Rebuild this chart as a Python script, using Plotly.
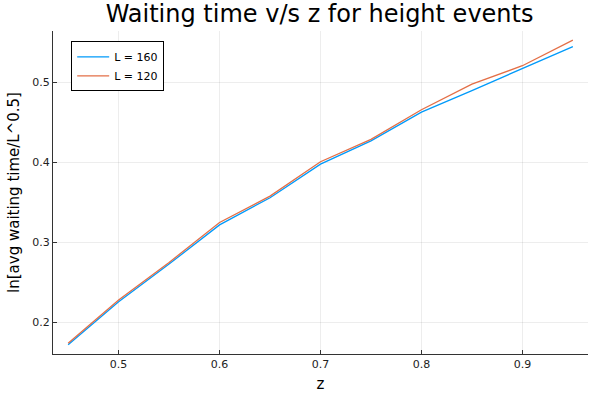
import plotly.graph_objects as go

z = [0.45, 0.5, 0.55, 0.6, 0.65, 0.7, 0.75, 0.8, 0.85, 0.9, 0.95]
wait_L160 = [0.172, 0.226, 0.273, 0.322, 0.356, 0.398, 0.427, 0.463, 0.490, 0.518, 0.545]
wait_L120 = [0.174, 0.228, 0.275, 0.325, 0.358, 0.401, 0.429, 0.466, 0.498, 0.521, 0.553]
series_names = ["L = 160", "L = 120"]

FONT = "DejaVu Sans"


def padded(vals, frac=0.03):
    lo, hi = min(vals), max(vals)
    pad = (hi - lo) * frac
    return [lo - pad, hi + pad]


fig = go.Figure()
fig.add_trace(go.Scatter(x=z, y=wait_L160, mode="lines", name=series_names[0],
                         line=dict(color="#009AFA", width=1.3)))
fig.add_trace(go.Scatter(x=z, y=wait_L120, mode="lines", name=series_names[1],
                         line=dict(color="#E36F47", width=1.3)))

axis_style = dict(
    showline=True, linecolor="#333333", linewidth=1,
    ticks="inside", ticklen=4, tickcolor="#333333",
    showgrid=True, gridcolor="rgba(0,0,0,0.07)", gridwidth=1,
    zeroline=False, mirror=False, automargin=False,
    tickfont=dict(family=FONT, size=11, color="#222222"),
    title_font=dict(family=FONT, size=15, color="#000000"),
)

fig.update_layout(
    width=594, height=398,
    margin=dict(l=53, r=6, t=31, b=44),
    paper_bgcolor="white", plot_bgcolor="white",
    title=dict(text="Waiting time v/s z for height events", x=0.538, xanchor="center",
               y=0.988, yanchor="top",
               font=dict(family=FONT, size=24, color="#000000")),
    xaxis=dict(title=dict(text="z", standoff=8), range=padded(z),
               tickvals=[0.5, 0.6, 0.7, 0.8, 0.9], **axis_style),
    yaxis=dict(title=dict(text="ln[avg waiting time/L^0.5]", standoff=9),
               range=padded(wait_L160 + wait_L120),
               tickvals=[0.2, 0.3, 0.4, 0.5], **axis_style),
    legend=dict(x=0.034, y=0.968, xanchor="left", yanchor="top",
                bgcolor="white", bordercolor="#000000", borderwidth=1,
                font=dict(family=FONT, size=11, color="#000000"),
                tracegroupgap=0, itemwidth=32),
    showlegend=True,
)

# the page body has an 8px default margin; drop it so the figure sits at 0,0
fig.write_html("out.html", config={"displayModeBar": False},
               post_script="document.body.style.margin='0';")
